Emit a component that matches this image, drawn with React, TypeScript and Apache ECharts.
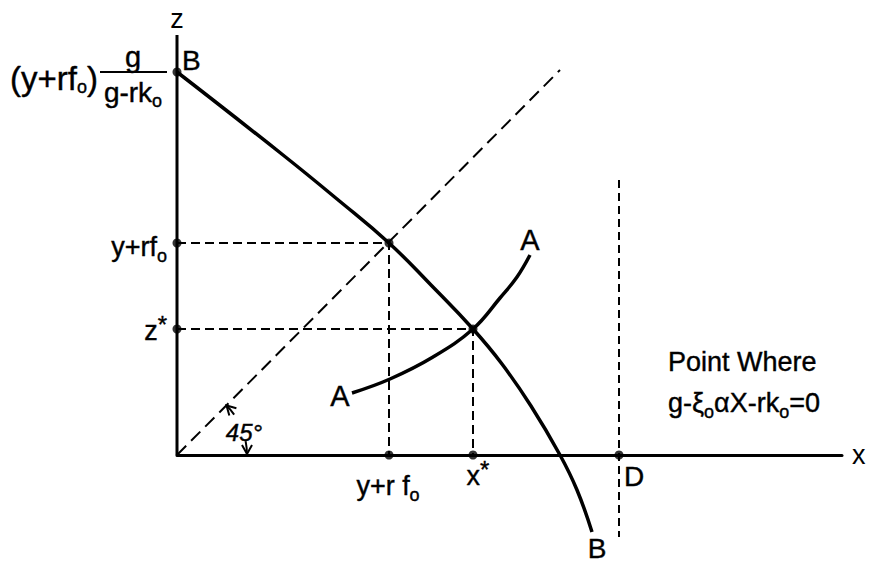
import React, { useEffect, useRef } from "react";
import * as echarts from "echarts";

// ---- data (chart units: x to the right, z upward, origin at the axes' corner) ----
const axisMaxX = 665;
const axisMaxZ = 420;
const axisMinZ = -100;

// Curve B (from the z intercept down through both intersections and below the x axis)
const curveB: [number, number][] = [
  [0, 383], [106, 300], [160, 256], [212, 212], [254, 170], [296, 126],
  [325, 91], [354, 49], [383, 0], [400, -35], [415, -77],
];
// Curve A (rising, crossing B at the equilibrium point)
const curveA: [number, number][] = [
  [175, 62], [213, 76], [256, 98], [296, 126], [323, 157], [340, 178], [353, 200],
];
// 45 degree line
const diagonal: [number, number][] = [[0, 0], [383, 385]];
// key values
const interceptB = 383;      // (y+rf0) g/(g-rk0)
const valueYRF = 212;        // y+rf0
const xStar = 296;           // x*
const zStar = 126;           // z*
const pointD = 442;          // D
const dLineRange = [275, -82];

const dots: [number, number][] = [
  [0, interceptB], [0, valueYRF], [0, zStar],
  [valueYRF, 0], [xStar, 0], [pointD, 0],
  [valueYRF, valueYRF], [xStar, zStar],
];

const FONT = "'Liberation Sans', Arial, sans-serif";

export default function App() {
  const ref = useRef<HTMLDivElement>(null);
  useEffect(() => {
    const chart = echarts.init(ref.current!, null, { renderer: "svg" });
    const dashed = (data: number[][], dash: number[], width = 2) => ({
      type: "line",
      data,
      symbol: "none",
      silent: true,
      lineStyle: { color: "#000", width, type: dash },
      z: 2,
    });
    chart.setOption({
      animation: false,
      backgroundColor: "#fff",
      grid: { left: 177, top: 35, width: 665, height: 520 },
      xAxis: {
        type: "value",
        min: 0,
        max: axisMaxX,
        axisLine: { show: true, onZero: true, lineStyle: { color: "#000", width: 3 } },
        axisTick: { show: false },
        axisLabel: { show: false },
        splitLine: { show: false },
        name: "x",
        nameLocation: "end",
        nameGap: 10,
        nameTextStyle: { fontSize: 27, color: "#000", fontFamily: FONT },
      },
      yAxis: {
        type: "value",
        min: axisMinZ,
        max: axisMaxZ,
        axisLine: { show: false },
        axisTick: { show: false },
        axisLabel: { show: false },
        splitLine: { show: false },
        name: "z",
        nameLocation: "end",
        nameGap: 3,
        nameTextStyle: { fontSize: 27, color: "#000", fontFamily: FONT },
      },
      series: [
        {
          type: "line",
          data: [[0, 0], [0, axisMaxZ]],
          symbol: "none",
          silent: true,
          lineStyle: { color: "#000", width: 3 },
        },
        dashed(diagonal, [13, 7]),
        dashed([[0, valueYRF], [valueYRF, valueYRF], [valueYRF, 0]], [9, 5]),
        dashed([[0, zStar], [xStar, zStar], [xStar, 0]], [9, 5]),
        dashed([[pointD, dLineRange[0]], [pointD, dLineRange[1]]], [8, 5]),
        {
          type: "line",
          data: curveB,
          smooth: 0.45,
          symbol: "none",
          silent: true,
          lineStyle: { color: "#000", width: 3.5 },
          z: 3,
        },
        {
          type: "line",
          data: curveA,
          smooth: 0.4,
          symbol: "none",
          silent: true,
          lineStyle: { color: "#000", width: 3.5 },
          z: 3,
        },
        {
          type: "scatter",
          data: dots,
          symbol: "circle",
          symbolSize: 9,
          silent: true,
          itemStyle: { color: "#000" },
          z: 5,
        },
      ],
    });

    const o = chart.convertToPixel({ gridIndex: 0 }, [0, 0]) as number[];
    const ox = o[0];
    const oy = o[1];
    const rich = {
      s: { fontSize: 18, fontFamily: FONT, padding: [18, 0, 0, 0] },
      sup: { fontSize: 24, fontFamily: FONT, padding: [0, 0, 14, 0] },
    };
    const txt = (
      x: number,
      y: number,
      text: string,
      align = "center",
      extra: Record<string, unknown> = {}
    ) => ({
      type: "text",
      x,
      y,
      silent: true,
      style: {
        text,
        fill: "#000",
        stroke: "#000",
        lineWidth: 0.4,
        fontSize: 27,
        fontFamily: FONT,
        align,
        verticalAlign: "middle",
        rich,
        ...extra,
      },
      z: 10,
    });
    const arrowHead = (tx: number, ty: number, dx: number, dy: number) => {
      const l = 9;
      const w = 5;
      const bx = tx - l * dx;
      const by = ty - l * dy;
      const nx = -dy;
      const ny = dx;
      return {
        type: "polyline",
        silent: true,
        shape: { points: [[bx + w * nx, by + w * ny], [tx, ty], [bx - w * nx, by - w * ny]] },
        style: { stroke: "#000", lineWidth: 2, fill: null },
        z: 10,
      };
    };
    const r = 70;
    const a45 = -Math.PI / 4;
    chart.setOption({
      graphic: [
        // top-left intercept label
        txt(98, 78, "(y+rf{s|o})", "right", { fontSize: 33 }),
        txt(133, 57, "g", "center", { fontSize: 29 }),
        {
          type: "line",
          silent: true,
          shape: { x1: 100, y1: 72, x2: 167, y2: 72 },
          style: { stroke: "#000", lineWidth: 2 },
        },
        txt(133, 92, "g-rk{s|o}", "center", { fontSize: 28 }),
        txt(182, 60, "B", "left", { fontSize: 28 }),
        // z axis labels
        txt(167, 247, "y+rf{s|o}", "right"),
        txt(167, 331, "z{sup|*}", "right"),
        // curve labels
        txt(530, 240, "A", "center", { fontSize: 29 }),
        txt(340, 396, "A", "center", { fontSize: 29 }),
        txt(597, 548, "B", "center", { fontSize: 28 }),
        txt(634, 476, "D", "center", { fontSize: 28 }),
        // x axis labels
        txt(388, 486, "y+r f{s|o}"),
        txt(478, 476, "x{sup|*}"),
        // note
        txt(668, 362, "Point Where", "left"),
        txt(668, 403, "g-ξ{s|o}αX-rk{s|o}=0", "left"),
        // 45 degree annotation
        txt(244, 432, "45°", "center", { fontSize: 24, fontStyle: "italic" }),
        {
          type: "arc",
          silent: true,
          shape: { cx: ox, cy: oy, r, startAngle: a45, endAngle: a45 + 0.17, clockwise: true },
          style: { stroke: "#000", lineWidth: 2, fill: null },
        },
        {
          type: "arc",
          silent: true,
          shape: { cx: ox, cy: oy, r, startAngle: -0.2, endAngle: 0, clockwise: true },
          style: { stroke: "#000", lineWidth: 2, fill: null },
        },
        arrowHead(ox + r * Math.cos(a45), oy + r * Math.sin(a45), Math.sin(a45), -Math.cos(a45)),
        arrowHead(ox + r, oy - 1, 0, 1),
      ],
    });
    return () => chart.dispose();
  }, []);
  return (
    <div
      ref={ref}
      style={{ position: "absolute", left: 0, top: 0, width: 870, height: 563, background: "#fff" }}
    />
  );
}
